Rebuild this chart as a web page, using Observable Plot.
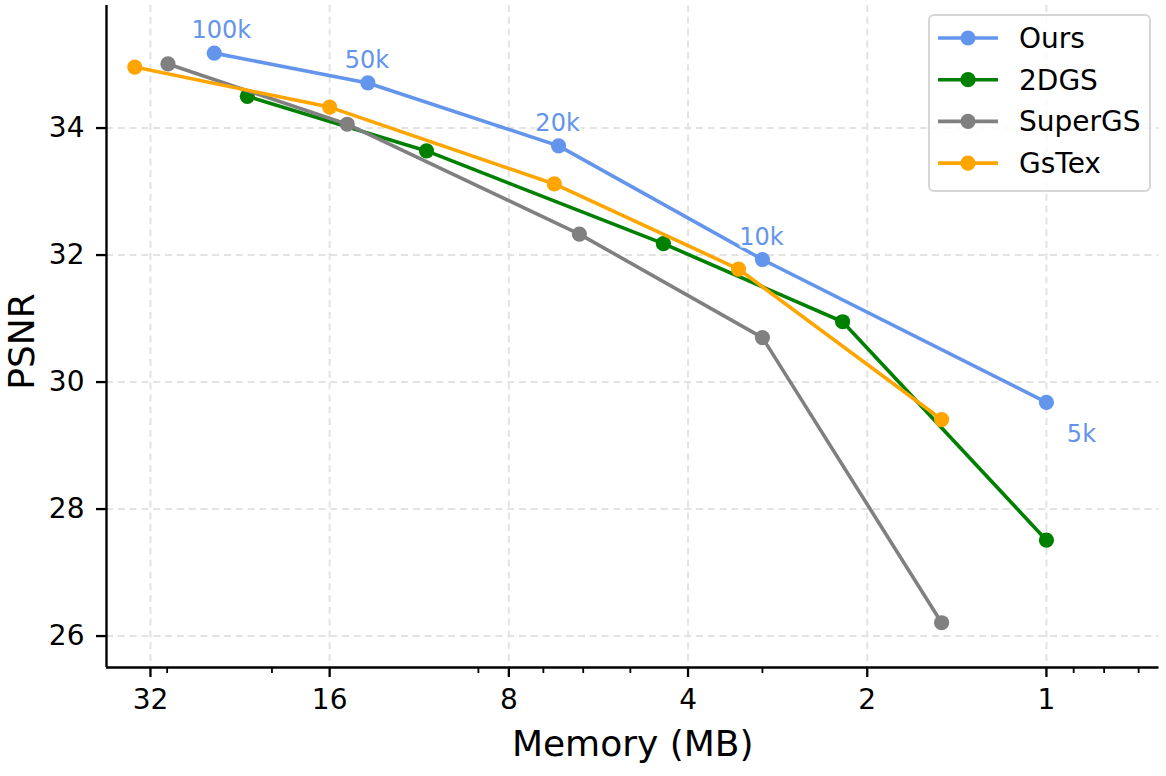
<!DOCTYPE html>
<html>
<head>
<meta charset="utf-8">
<script src="https://cdn.jsdelivr.net/npm/d3@7"></script>
<script src="https://cdn.jsdelivr.net/npm/@observablehq/plot@0.6"></script>
<style>
  html, body { margin: 0; padding: 0; background: white; }
  #wrap { position: relative; width: 1166px; height: 776px; font-family: "DejaVu Sans", sans-serif; }
  #legend { position: absolute; left: 0; top: 0; }
</style>
</head>
<body>
<div id="wrap"></div>
<script>
// ---- data ----
const methods = ["Ours", "2DGS", "SuperGS", "GsTex"];
const colors = ["#6495ED", "#008000", "#808080", "#FFA500"];

const oursMem = [25.0, 13.8, 6.6, 3.0, 1.0];
const oursPsnr = [35.18, 34.71, 33.72, 31.93, 29.68];
const oursLabels = ["100k", "50k", "20k", "10k", "5k"];

const dgsMem = [22.0, 11.0, 4.4, 2.2, 1.0];
const dgsPsnr = [34.50, 33.64, 32.18, 30.95, 27.51];

const superMem = [29.9, 14.95, 6.09, 3.0, 1.5];
const superPsnr = [35.01, 34.06, 32.33, 30.70, 26.21];

const gstexMem = [34.0, 16.0, 6.71, 3.29, 1.5];
const gstexPsnr = [34.96, 34.33, 33.12, 31.78, 29.41];

const xTicks = [32, 16, 8, 4, 2, 1];
const xMinorTicks = [30, 20, 9, 7, 6, 5, 3, 0.9, 0.8, 0.7];
const yTicks = [26, 28, 30, 32, 34];

const xDomain = [37.93, 0.647];
const yDomain = [25.505, 35.93];

// ---- build tables ----
const memSeries = [oursMem, dgsMem, superMem, gstexMem];
const psnrSeries = [oursPsnr, dgsPsnr, superPsnr, gstexPsnr];
const rows = methods.map((m, k) => memSeries[k].map((v, i) => ({method: m, mem: v, psnr: psnrSeries[k][i]})));
const labelRows = oursLabels.map((t, i) => ({label: t, mem: oursMem[i], psnr: oursPsnr[i]}));

const seriesMarks = [];
rows.forEach((data, k) => {
  seriesMarks.push(Plot.line(data, {x: "mem", y: "psnr", stroke: colors[k], strokeWidth: 3.6}));
  seriesMarks.push(Plot.dot(data, {x: "mem", y: "psnr", fill: colors[k], r: 7.6, stroke: "none"}));
});

const labelStyle = {x: "mem", y: "psnr", text: "label", fill: colors[0], fontSize: 24,
  lineAnchor: "bottom", textAnchor: "middle", stroke: "white", strokeOpacity: 0.7, strokeWidth: 6, paintOrder: "stroke"};

const chart = Plot.plot({
  width: 1166,
  height: 776,
  marginLeft: 106,
  marginRight: 7.5,
  marginTop: 5,
  marginBottom: 109,
  style: {fontFamily: "DejaVu Sans, sans-serif", fontSize: "28px", background: "white", color: "black", overflow: "visible"},
  x: {type: "log", base: 2, domain: xDomain},
  y: {domain: yDomain},
  marks: [
    Plot.gridX({ticks: xTicks, stroke: "#e3e3e3", strokeOpacity: 1, strokeWidth: 2, strokeDasharray: "7,4.8"}),
    Plot.gridY({ticks: yTicks, stroke: "#e3e3e3", strokeOpacity: 1, strokeWidth: 2, strokeDasharray: "7,4.8"}),
    ...seriesMarks,
    Plot.text(labelRows, {...labelStyle, filter: d => d.label === "100k", dx: 7, dy: -15}),
    Plot.text(labelRows, {...labelStyle, filter: d => ["50k", "20k", "10k"].includes(d.label), dx: -1, dy: -15}),
    Plot.text(labelRows, {...labelStyle, filter: d => d.label === "5k", dx: 35, dy: 40}),
    Plot.ruleX([xDomain[0]], {stroke: "black", strokeWidth: 2.4}),
    Plot.ruleY([yDomain[0]], {stroke: "black", strokeWidth: 2.4}),
    Plot.axisX({ticks: xTicks, tickSize: 10, tickPadding: 12, strokeWidth: 2.3, fontSize: 28, tickFormat: d => String(d), label: null}),
    Plot.axisX({ticks: xMinorTicks, tickSize: 6, strokeWidth: 1.8, text: null, label: null}),
    Plot.axisY({ticks: yTicks, tickSize: 10, tickPadding: 12, strokeWidth: 2.3, fontSize: 28, tickFormat: d => String(d), label: null}),
    Plot.text(["Memory (MB)"], {frameAnchor: "bottom", dy: 88, lineAnchor: "bottom", textAnchor: "middle", fontSize: 36, fill: "black"}),
    Plot.text(["PSNR"], {frameAnchor: "left", dx: -73, dy: 5, rotate: -90, lineAnchor: "bottom", textAnchor: "middle", fontSize: 36, fill: "black"})
  ]
});

const wrap = document.getElementById("wrap");
wrap.appendChild(chart);

// ---- legend overlay ----
const lg = d3.select(wrap).append("svg")
  .attr("id", "legend")
  .attr("width", 1166).attr("height", 776)
  .style("pointer-events", "none");
const box = {x: 929, y: 15, w: 221, h: 176};
lg.append("rect")
  .attr("x", box.x).attr("y", box.y).attr("width", box.w).attr("height", box.h)
  .attr("rx", 5).attr("ry", 5)
  .attr("fill", "white").attr("fill-opacity", 0.8)
  .attr("stroke", "#d6d6d6").attr("stroke-width", 2);
methods.forEach((m, k) => {
  const cy = 38 + k * 41.7;
  lg.append("line").attr("x1", 938).attr("x2", 998).attr("y1", cy).attr("y2", cy)
    .attr("stroke", colors[k]).attr("stroke-width", 3.6);
  lg.append("circle").attr("cx", 968).attr("cy", cy).attr("r", 7.6).attr("fill", colors[k]);
  lg.append("text").attr("x", 1019).attr("y", cy).attr("dy", "0.36em")
    .attr("font-family", "DejaVu Sans, sans-serif").attr("font-size", 28).attr("fill", "black")
    .text(m);
});
</script>
</body>
</html>
